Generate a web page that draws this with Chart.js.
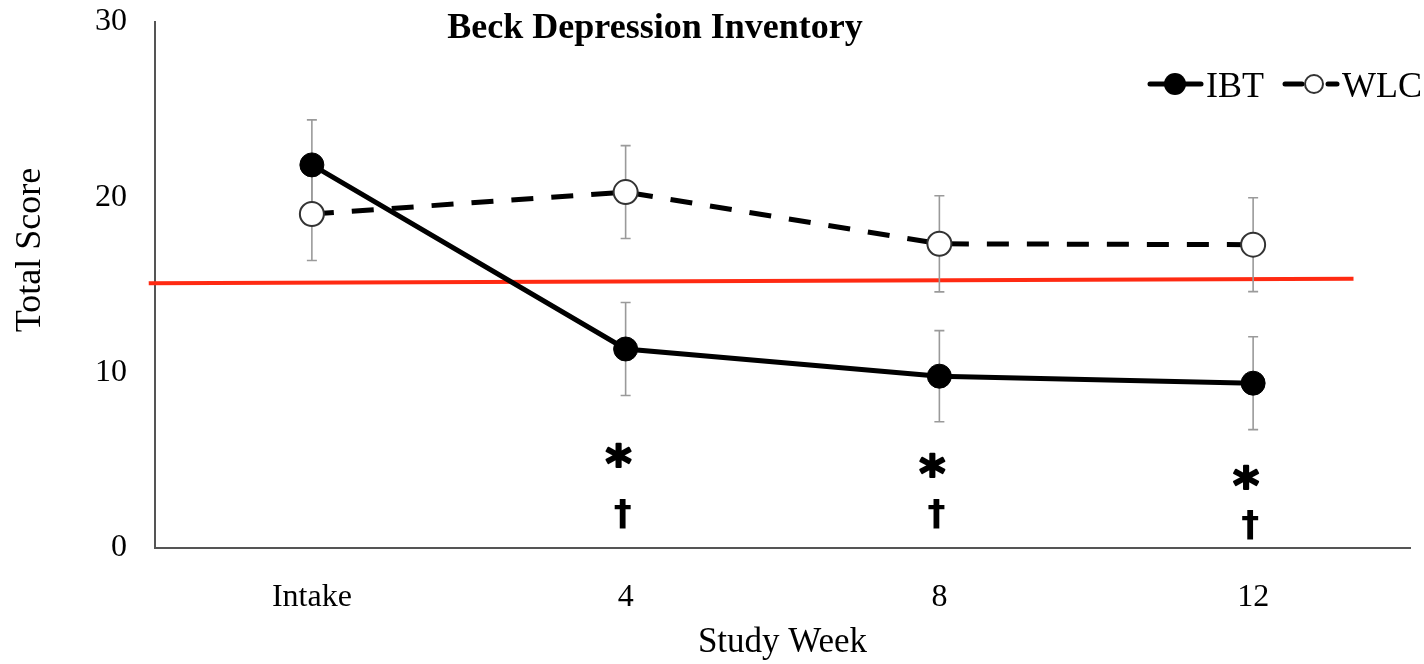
<!DOCTYPE html>
<html>
<head>
<meta charset="utf-8">
<script src="https://cdn.jsdelivr.net/npm/chart.js@4/dist/chart.umd.min.js"></script>
<style>
html,body{margin:0;padding:0;background:#fff;}
#c{display:block;}
</style>
</head>
<body>
<canvas id="c" width="1424" height="664"></canvas>
<script>
// ---- data ----
const chartTitle = 'Beck Depression Inventory';
const categories = ['Intake', '4', '8', '12'];
const ibtMean = [21.85, 11.35, 9.8, 9.4];
const ibtErr  = [2.57, 2.65, 2.6, 2.65];
const wlcMean = [19.05, 20.3, 17.35, 17.3];
const wlcErr  = [2.65, 2.65, 2.74, 2.68];
const yTicks = [0, 10, 20, 30];
const cutoffX = [-0.52, 3.32];
const cutoffY = [15.1, 15.35];
const starY   = [null, 5.3, 4.75, 4.05];
const daggerY = [null, 1.95, 1.95, 1.3];
const seriesNames = ['IBT', 'WLC'];
const xTitle = 'Study Week';
const yTitle = 'Total Score';

const SERIF = '"Liberation Serif", "Times New Roman", serif';

const overlay = {
  id: 'overlay',
  beforeDatasetsDraw(chart) {
    const ctx = chart.ctx, x = chart.scales.x, y = chart.scales.y;
    ctx.save();
    // red cutoff line
    ctx.strokeStyle = '#ff2a12';
    ctx.lineWidth = 4;
    ctx.beginPath();
    ctx.moveTo(x.getPixelForValue(cutoffX[0]), y.getPixelForValue(cutoffY[0]));
    ctx.lineTo(x.getPixelForValue(cutoffX[1]), y.getPixelForValue(cutoffY[1]));
    ctx.stroke();
    // error bars
    ctx.strokeStyle = '#9a9a9a';
    ctx.lineWidth = 1.6;
    const bars = (means, errs) => {
      means.forEach((m, i) => {
        const px = x.getPixelForValue(i);
        const t = y.getPixelForValue(m + errs[i]);
        const b = y.getPixelForValue(m - errs[i]);
        ctx.beginPath();
        ctx.moveTo(px, t); ctx.lineTo(px, b);
        ctx.moveTo(px - 5, t); ctx.lineTo(px + 5, t);
        ctx.moveTo(px - 5, b); ctx.lineTo(px + 5, b);
        ctx.stroke();
      });
    };
    bars(wlcMean, wlcErr);
    bars(ibtMean, ibtErr);
    ctx.restore();
  },
  afterDatasetsDraw(chart) {
    const ctx = chart.ctx, x = chart.scales.x, y = chart.scales.y;
    ctx.save();
    ctx.fillStyle = '#000';
    // title
    ctx.font = 'bold 36px ' + SERIF;
    ctx.textAlign = 'center';
    ctx.textBaseline = 'alphabetic';
    ctx.fillText(chartTitle, 655, 38);
    // y title
    ctx.save();
    ctx.translate(40, 250);
    ctx.rotate(-Math.PI / 2);
    ctx.font = '36px ' + SERIF;
    ctx.textAlign = 'center';
    ctx.textBaseline = 'alphabetic';
    ctx.fillText(yTitle, 0, 0);
    ctx.restore();
    // significance marks
    const mark = (txt, font, px, py, sw) => {
      ctx.font = font;
      ctx.textAlign = 'center';
      ctx.textBaseline = 'alphabetic';
      const m = ctx.measureText(txt);
      const off = (m.actualBoundingBoxAscent - m.actualBoundingBoxDescent) / 2;
      ctx.fillText(txt, px, py + off);
      if (sw) {
        ctx.lineWidth = sw; ctx.strokeStyle = '#000'; ctx.lineJoin = 'round';
        ctx.strokeText(txt, px, py + off);
      }
    };
    starY.forEach((v, i) => {
      if (v == null) return;
      mark('*', 'bold 50px "DejaVu Sans", sans-serif', x.getPixelForValue(i) - 7, y.getPixelForValue(v), 2);
    });
    daggerY.forEach((v, i) => {
      if (v == null) return;
      mark('\u2020', 'bold 36px "DejaVu Sans", sans-serif', x.getPixelForValue(i) - 3, y.getPixelForValue(v), 0);
    });
    // legend
    const ly = 84;
    ctx.lineCap = 'round';
    ctx.strokeStyle = '#000';
    ctx.lineWidth = 5;
    ctx.beginPath(); ctx.moveTo(1150, ly); ctx.lineTo(1201, ly); ctx.stroke();
    ctx.beginPath(); ctx.arc(1175, ly, 11, 0, Math.PI * 2); ctx.fillStyle = '#000'; ctx.fill();
    ctx.beginPath(); ctx.moveTo(1285, ly); ctx.lineTo(1302, ly); ctx.stroke();
    ctx.beginPath(); ctx.moveTo(1328, ly); ctx.lineTo(1337, ly); ctx.stroke();
    ctx.beginPath(); ctx.arc(1314, ly, 9, 0, Math.PI * 2);
    ctx.fillStyle = '#fff'; ctx.fill();
    ctx.lineWidth = 2; ctx.strokeStyle = '#333'; ctx.stroke();
    ctx.fillStyle = '#000';
    ctx.font = '36px ' + SERIF;
    ctx.textAlign = 'left';
    ctx.textBaseline = 'alphabetic';
    ctx.fillText(seriesNames[0], 1206, 97);
    ctx.fillText(seriesNames[1], 1342, 97);
    ctx.restore();
  }
};

new Chart(document.getElementById('c'), {
  type: 'line',
  data: {
    labels: categories,
    datasets: [
      {
        label: seriesNames[0],
        data: ibtMean,
        borderColor: '#000',
        borderWidth: 5,
        backgroundColor: '#000',
        pointRadius: 12,
        pointBackgroundColor: '#000',
        pointBorderColor: '#000',
        pointBorderWidth: 1,
        tension: 0
      },
      {
        label: seriesNames[1],
        data: wlcMean,
        borderColor: '#000',
        borderWidth: 5,
        borderDash: [22, 18],
        backgroundColor: '#fff',
        pointRadius: 12,
        pointBackgroundColor: '#fff',
        pointBorderColor: '#333',
        pointBorderWidth: 2,
        tension: 0
      }
    ]
  },
  options: {
    responsive: false,
    animation: false,
    devicePixelRatio: 1,
    layout: { autoPadding: false, padding: { top: 22, right: 14, left: 0, bottom: 0 } },
    plugins: {
      legend: { display: false },
      title: { display: false },
      tooltip: { enabled: false }
    },
    scales: {
      x: {
        type: 'category',
        offset: true,
        grid: { display: false, drawTicks: false },
        border: { display: true, color: '#555', width: 2 },
        ticks: { color: '#000', font: { family: SERIF, size: 32 }, padding: 30, maxRotation: 0 },
        title: { display: true, text: xTitle, color: '#000', font: { family: SERIF, size: 35 }, padding: { top: 0, bottom: 0 } },
        afterFit(s) { s.height = 116; }
      },
      y: {
        min: 0, max: 30,
        afterBuildTicks(s) { s.ticks = yTicks.map(v => ({ value: v })); },
        grid: { display: false, drawTicks: false },
        border: { display: true, color: '#555', width: 2 },
        ticks: { color: '#000', font: { family: SERIF, size: 32 }, padding: 28 },
        afterFit(s) { s.width = 155; s.paddingTop = 0; s.paddingBottom = 0; }
      }
    }
  },
  plugins: [overlay]
});
</script>
</body>
</html>
